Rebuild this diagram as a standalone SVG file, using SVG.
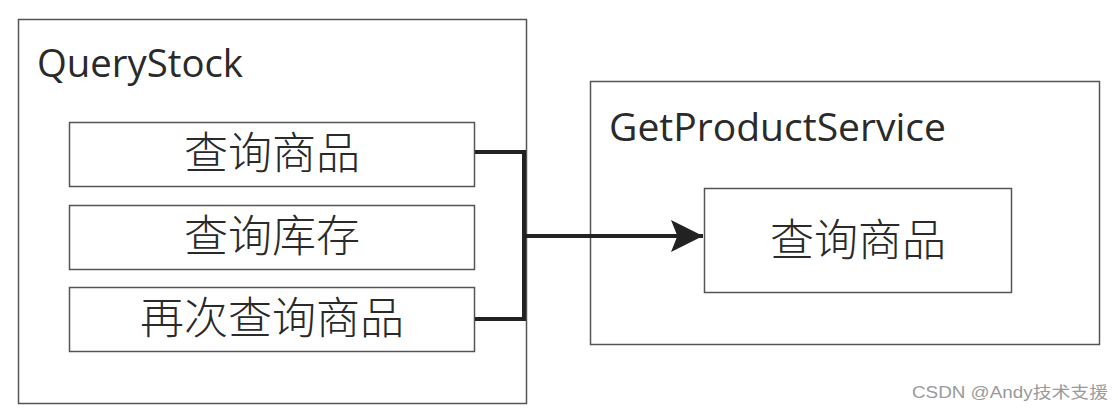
<svg xmlns="http://www.w3.org/2000/svg" width="1118" height="416" viewBox="0 0 1118 416">
  <style>
    .box { fill: none; stroke: #555; stroke-width: 1.5; }
    .title { font-family: "Open Sans", "Liberation Sans", sans-serif; font-size: 38px; fill: #2a2a2a; }
    .cn { font-family: "Noto Sans CJK SC", sans-serif; font-size: 44px; font-weight: 300; fill: #2a2a2a; text-anchor: middle; }
    .conn { fill: none; stroke: #222; stroke-width: 4; }
    .wm { font-family: "Liberation Sans", "Noto Sans CJK SC", sans-serif; font-size: 16px; fill: #9a9a9a; }
  </style>
  <defs>
    <marker id="arrow" markerUnits="userSpaceOnUse" markerWidth="32" markerHeight="32" viewBox="0 0 30 30" refX="30" refY="15" orient="auto">
      <path d="M0,0 L30,15 L0,30 L6,15 Z" fill="#222"/>
    </marker>
  </defs>
  <rect width="1118" height="416" fill="#ffffff"/>

  <g id="QueryStock">
    <rect class="box" x="18.5" y="19.5" width="508" height="384"/>
    <text class="title" x="37" y="77" textLength="206" lengthAdjust="spacingAndGlyphs">QueryStock</text>
  </g>
  <g id="query-product">
    <rect class="box" x="69.5" y="122.5" width="405" height="64"/>
    <text class="cn" x="272" y="169">查询商品</text>
  </g>
  <g id="query-stock">
    <rect class="box" x="69.5" y="205.5" width="405" height="64"/>
    <text class="cn" x="272" y="252">查询库存</text>
  </g>
  <g id="query-product-again">
    <rect class="box" x="69.5" y="287.5" width="405" height="64"/>
    <text class="cn" x="272" y="334">再次查询商品</text>
  </g>

  <g id="GetProductService">
    <rect class="box" x="590.5" y="81.5" width="509" height="263"/>
    <text class="title" x="609" y="141" textLength="337" lengthAdjust="spacingAndGlyphs">GetProductService</text>
  </g>
  <g id="gps-query-product">
    <rect class="box" x="704.5" y="188.5" width="307" height="104"/>
    <text class="cn" x="858" y="256">查询商品</text>
  </g>

  <g id="connectors">
    <polyline class="conn" points="475,152 524,152 524,319 475,319"/>
    <line class="conn" x1="524" y1="236" x2="703" y2="236" marker-end="url(#arrow)"/>
  </g>

  <text class="wm" x="912" y="398" textLength="196" lengthAdjust="spacingAndGlyphs">CSDN @Andy技术支援</text>
</svg>
